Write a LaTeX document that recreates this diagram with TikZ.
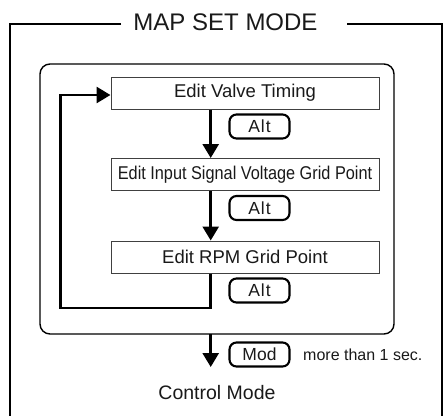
\documentclass[tikz,border=0pt]{standalone}
\usepackage{fontspec}
\setmainfont{Liberation Sans}
\usetikzlibrary{arrows.meta}
\begin{document}
\begin{tikzpicture}[x=1pt,y=-1pt,
  stepbox/.style={draw=black!75,line width=1pt,minimum width=268pt,minimum height=32pt,inner sep=0pt,font=\fontsize{18.5}{20}\selectfont,text=black!90},
  keybtn/.style={draw=black,line width=2.1pt,rounded corners=7pt,minimum width=60pt,minimum height=24pt,inner sep=0pt,font=\fontsize{17.5}{19}\selectfont,text=black!90},
  flow/.style={line width=2.6pt,-{Triangle[width=16pt,length=14pt]}}]
\useasboundingbox (0,0) rectangle (444,415);
% outer frame
\node[font=\fontsize{24}{26}\selectfont,text=black!90] (title) at (225.5,22) {MAP SET MODE};
\draw[line width=2.2pt] (121,24) -- (10,24) -- (10,416);
\draw[line width=2.2pt] (347,24) -- (442,24) -- (442,416);
% inner group
\draw[line width=1.4pt,rounded corners=10pt] (40,64) rectangle (394,334);
\coordinate (gbot) at (210.7,334);
% steps
\node[stepbox] (s1) at (245,93) {Edit Valve Timing};
\node[stepbox] (s2) at (245,174.5) {\scalebox{0.88}[1]{Edit Input Signal Voltage Grid Point}};
\node[stepbox] (s3) at (245,257) {Edit RPM Grid Point};
% keys
\node[keybtn] (k1) at (259.5,126.5) {A\kern1pt l\kern1pt t};
\node[keybtn] (k2) at (259.5,208) {A\kern1pt l\kern1pt t};
\node[keybtn] (k3) at (259.5,290.5) {A\kern1pt l\kern1pt t};
\node[keybtn] (k4) at (259.5,354.5) {Mod};
\node[font=\fontsize{16}{18}\selectfont,text=black!90,anchor=west,inner sep=0pt] (note) at (303,355) {more than 1 sec.};
\node[font=\fontsize{19.5}{22}\selectfont,text=black!90] (ctrl) at (217,393) {Control Mode};
\coordinate (end) at (210.7,367);
% connectors
\draw[flow] (s1.south -| gbot) -- (s2.north -| gbot);
\draw[flow] (s2.south -| gbot) -- (s3.north -| gbot);
\draw[flow] (s3.south -| gbot) -- (210.7,308) -- (60.7,308) -- (60.7,95) -- (s1.west |- 0,95);
\draw[flow] (gbot) -- (end);
\end{tikzpicture}
\end{document}
